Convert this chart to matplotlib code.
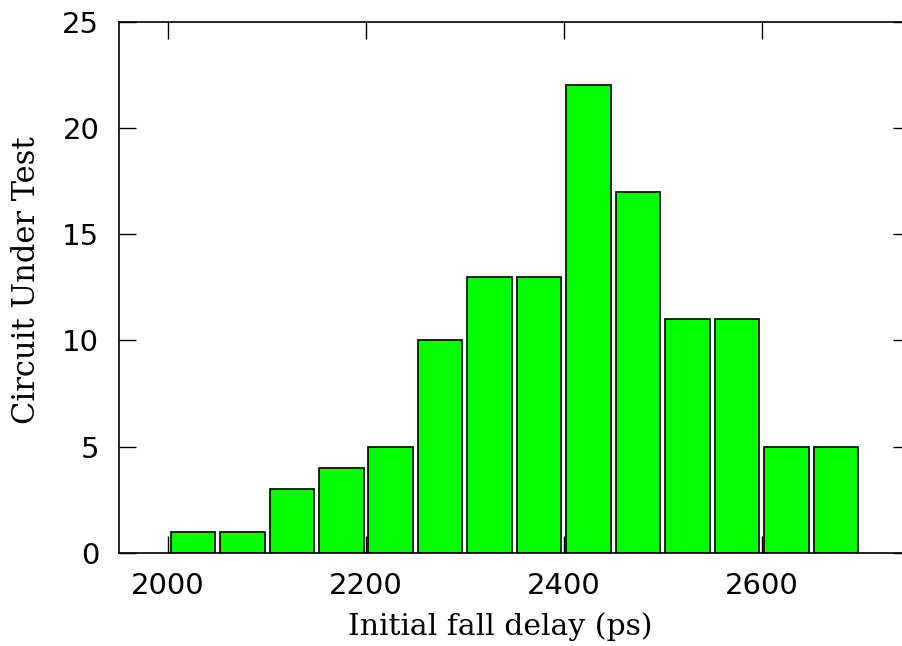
import matplotlib.pyplot as plt

# histogram data
bin_centers = [2025, 2075, 2125, 2175, 2225, 2275, 2325, 2375, 2425, 2475, 2525, 2575, 2625, 2675]
counts = [1, 1, 3, 4, 5, 10, 13, 13, 22, 17, 11, 11, 5, 5]
x_ticks = [2000, 2200, 2400, 2600]
y_ticks = [0, 5, 10, 15, 20, 25]

fig = plt.figure(figsize=(9.03, 6.46), dpi=100)
ax = fig.add_axes([118.7/903, 93/646, (910-118.7)/903, (553-21.7)/646])

ax.bar(bin_centers, counts, width=45, color="#00ff00", edgecolor="black", linewidth=1.2)

ax.set_xlim(1950, 2750)
ax.set_ylim(0, 25)
ax.set_xticks(x_ticks)
ax.set_yticks(y_ticks)
ax.tick_params(direction="in", length=12, width=1, top=True, right=True,
               labelsize=21, pad=14)
for s in ax.spines.values():
    s.set_linewidth(1.2)

ax.set_xlabel("Initial fall delay (ps)", family="DejaVu Serif", fontsize=21.5)
ax.set_ylabel("Circuit Under Test", family="DejaVu Serif", fontsize=22)
# labels sit a bit off-centre in the original (axes frame runs past the right edge)
ax.xaxis.set_label_coords(0.482, -0.111)
ax.yaxis.set_label_coords(-0.097, 0.514)

plt.savefig("out.png", dpi=100)
